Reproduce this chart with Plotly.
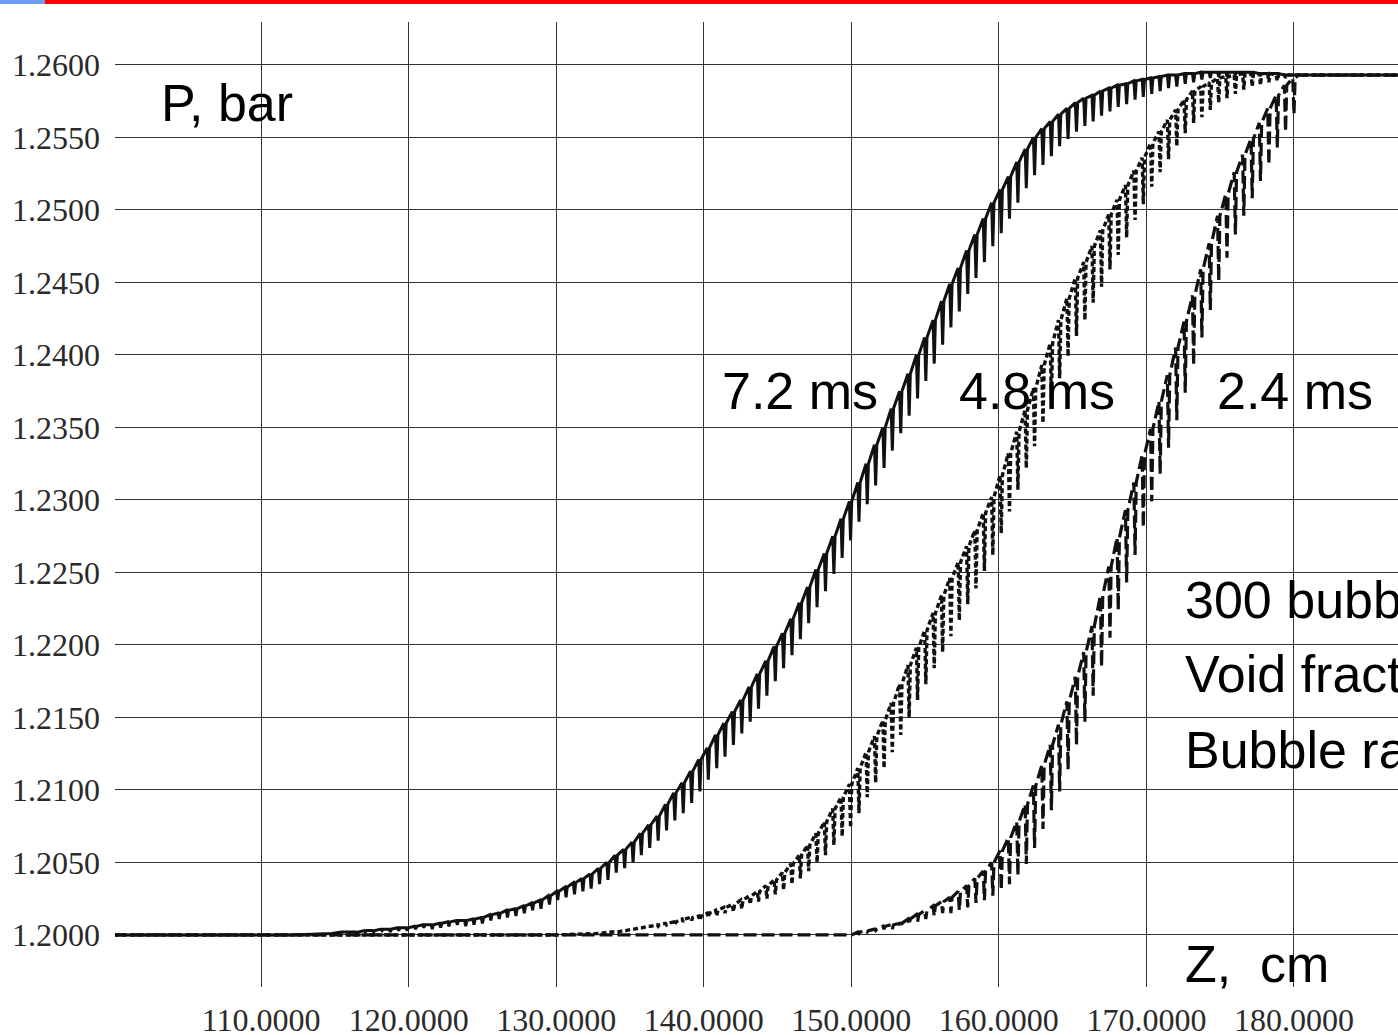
import plotly.graph_objects as go

# ---------------- data ----------------
# bubble positions along the tube (cm), where the pressure dips
bubble_z = [
    115.36, 115.93, 116.50, 117.06, 117.63, 118.20, 118.76, 119.33, 119.90, 120.47,
    121.03, 121.60, 122.17, 122.73, 123.30, 123.87, 124.43, 125.00, 125.57, 126.14,
    126.70, 127.27, 127.84, 128.40, 128.97, 129.54, 130.10, 130.67, 131.24, 131.81,
    132.37, 132.94, 133.51, 134.07, 134.64, 135.21, 135.77, 136.34, 136.91, 137.48,
    138.04, 138.61, 139.18, 139.74, 140.31, 140.88, 141.44, 142.01, 142.58, 143.15,
    143.71, 144.28, 144.85, 145.41, 145.98, 146.55, 147.11, 147.68, 148.25, 148.82,
    149.38, 149.95, 150.52, 151.08, 151.65, 152.22, 152.78, 153.35, 153.92, 154.49,
    155.05, 155.62, 156.19, 156.75, 157.32, 157.89, 158.45, 159.02, 159.59, 160.16,
    160.72, 161.29, 161.86, 162.42, 162.99, 163.56, 164.12, 164.69, 165.26, 165.83,
    166.39, 166.96, 167.53, 168.09, 168.66, 169.23, 169.79, 170.36, 170.93, 171.50,
    172.06, 172.63, 173.20, 173.76, 174.33, 174.90, 175.46, 176.03, 176.60, 177.17,
    177.73, 178.30, 178.87, 179.43, 180.00,
]

# 7.2 ms (solid): pressure just before each bubble and at the bottom of each dip (bar)
p72_top = [
    1.2002, 1.2002, 1.2002, 1.2003, 1.2003, 1.2004, 1.2004, 1.2005, 1.2005, 1.2006,
    1.2007, 1.2007, 1.2008, 1.2009, 1.2010, 1.2010, 1.2011, 1.2012, 1.2014, 1.2015,
    1.2017, 1.2018, 1.2020, 1.2022, 1.2024, 1.2027, 1.2030, 1.2033, 1.2036, 1.2039,
    1.2042, 1.2046, 1.2050, 1.2055, 1.2059, 1.2064, 1.2070, 1.2076, 1.2082, 1.2090,
    1.2098, 1.2105, 1.2113, 1.2121, 1.2129, 1.2138, 1.2146, 1.2154, 1.2162, 1.2171,
    1.2180, 1.2189, 1.2199, 1.2208, 1.2218, 1.2229, 1.2240, 1.2252, 1.2263, 1.2275,
    1.2287, 1.2299, 1.2312, 1.2325, 1.2338, 1.2350, 1.2363, 1.2375, 1.2387, 1.2400,
    1.2412, 1.2424, 1.2437, 1.2449, 1.2460, 1.2472, 1.2483, 1.2494, 1.2505, 1.2514,
    1.2523, 1.2533, 1.2542, 1.2550, 1.2556, 1.2561, 1.2566, 1.2570, 1.2574, 1.2577,
    1.2579, 1.2582, 1.2584, 1.2586, 1.2587, 1.2589, 1.2590, 1.2591, 1.2592, 1.2593,
    1.2593, 1.2594, 1.2594, 1.2595, 1.2595, 1.2595, 1.2595, 1.2595, 1.2595, 1.2595,
    1.2594, 1.2594, 1.2594, 1.2593, 1.2593,
]
p72_low = [
    1.2002, 1.2002, 1.2001, 1.2002, 1.2002, 1.2003, 1.2002, 1.2003, 1.2003, 1.2004,
    1.2005, 1.2004, 1.2005, 1.2006, 1.2007, 1.2006, 1.2007, 1.2008, 1.2010, 1.2011,
    1.2012, 1.2013, 1.2015, 1.2017, 1.2018, 1.2021, 1.2024, 1.2026, 1.2028, 1.2030,
    1.2032, 1.2035, 1.2038, 1.2043, 1.2046, 1.2050, 1.2055, 1.2060, 1.2065, 1.2072,
    1.2079, 1.2084, 1.2091, 1.2099, 1.2107, 1.2115, 1.2123, 1.2131, 1.2139, 1.2147,
    1.2156, 1.2165, 1.2175, 1.2184, 1.2193, 1.2204, 1.2215, 1.2226, 1.2237, 1.2249,
    1.2260, 1.2272, 1.2285, 1.2297, 1.2310, 1.2322, 1.2334, 1.2346, 1.2358, 1.2370,
    1.2382, 1.2394, 1.2407, 1.2419, 1.2430, 1.2442, 1.2453, 1.2464, 1.2475, 1.2484,
    1.2494, 1.2505, 1.2515, 1.2524, 1.2531, 1.2537, 1.2544, 1.2549, 1.2554, 1.2558,
    1.2561, 1.2565, 1.2568, 1.2571, 1.2573, 1.2576, 1.2578, 1.2580, 1.2582, 1.2584,
    1.2585, 1.2587, 1.2588, 1.2590, 1.2591, 1.2592, 1.2592, 1.2593, 1.2593, 1.2594,
    1.2593, 1.2593, 1.2594, 1.2593, 1.2593,
]

# 4.8 ms (dotted): bubbles from 133.51 cm onward
p48_top = [
    1.2002, 1.2002, 1.2003, 1.2004, 1.2005, 1.2006, 1.2007, 1.2008,
    1.2009, 1.2011, 1.2012, 1.2013, 1.2015, 1.2017, 1.2019, 1.2021, 1.2024, 1.2027,
    1.2030, 1.2034, 1.2038, 1.2043, 1.2049, 1.2055, 1.2062, 1.2070, 1.2078, 1.2087,
    1.2095, 1.2104, 1.2115, 1.2126, 1.2137, 1.2148, 1.2160, 1.2173, 1.2186, 1.2198,
    1.2210, 1.2222, 1.2234, 1.2246, 1.2257, 1.2268, 1.2279, 1.2291, 1.2302, 1.2317,
    1.2332, 1.2347, 1.2362, 1.2377, 1.2393, 1.2408, 1.2424, 1.2439, 1.2453, 1.2464,
    1.2475, 1.2486, 1.2497, 1.2507, 1.2517, 1.2527, 1.2536, 1.2546, 1.2554, 1.2562,
    1.2569, 1.2576, 1.2582, 1.2585, 1.2588, 1.2591, 1.2592, 1.2593, 1.2594, 1.2594,
    1.2594, 1.2594, 1.2593, 1.2593, 1.2593,
]
p48_low = [
    1.2002, 1.2002, 1.2003, 1.2004, 1.2005, 1.2006, 1.2006, 1.2007,
    1.2007, 1.2009, 1.2010, 1.2010, 1.2012, 1.2013, 1.2015, 1.2016, 1.2018, 1.2021,
    1.2023, 1.2025, 1.2028, 1.2031, 1.2035, 1.2039, 1.2044, 1.2050, 1.2055, 1.2062,
    1.2068, 1.2074, 1.2084, 1.2095, 1.2105, 1.2115, 1.2126, 1.2138, 1.2150, 1.2162,
    1.2173, 1.2184, 1.2195, 1.2206, 1.2217, 1.2228, 1.2239, 1.2251, 1.2262, 1.2277,
    1.2292, 1.2307, 1.2322, 1.2337, 1.2353, 1.2368, 1.2384, 1.2399, 1.2413, 1.2424,
    1.2436, 1.2447, 1.2459, 1.2469, 1.2481, 1.2493, 1.2504, 1.2516, 1.2526, 1.2535,
    1.2544, 1.2553, 1.2560, 1.2564, 1.2569, 1.2574, 1.2577, 1.2580, 1.2583, 1.2585,
    1.2586, 1.2588, 1.2589, 1.2591, 1.2593,
]

# 2.4 ms (dashed): bubbles from 149.95 cm onward
p24_top = [
    1.2000, 1.2002, 1.2003, 1.2004, 1.2006, 1.2007, 1.2008, 1.2011, 1.2014,
    1.2017, 1.2020, 1.2023, 1.2026, 1.2030, 1.2034, 1.2039, 1.2044, 1.2050, 1.2058,
    1.2067, 1.2078, 1.2090, 1.2103, 1.2117, 1.2131, 1.2145, 1.2161, 1.2178, 1.2195,
    1.2213, 1.2234, 1.2254, 1.2274, 1.2293, 1.2312, 1.2331, 1.2349, 1.2368, 1.2386,
    1.2405, 1.2423, 1.2441, 1.2459, 1.2477, 1.2496, 1.2511, 1.2526, 1.2538, 1.2549,
    1.2560, 1.2570, 1.2579, 1.2586, 1.2591,
]
p24_low = [
    1.2000, 1.2001, 1.2002, 1.2003, 1.2004, 1.2004, 1.2005, 1.2007, 1.2009,
    1.2011, 1.2013, 1.2015, 1.2015, 1.2017, 1.2019, 1.2022, 1.2024, 1.2027, 1.2031,
    1.2035, 1.2041, 1.2049, 1.2060, 1.2073, 1.2086, 1.2099, 1.2114, 1.2131, 1.2147,
    1.2165, 1.2185, 1.2205, 1.2224, 1.2243, 1.2262, 1.2281, 1.2299, 1.2318, 1.2336,
    1.2355, 1.2374, 1.2393, 1.2412, 1.2431, 1.2451, 1.2467, 1.2483, 1.2496, 1.2508,
    1.2520, 1.2531, 1.2543, 1.2554, 1.2566,
]

# undisturbed parts of each profile (before the front / after 180 cm)
lead72_z, lead72_p = [100.0, 112.0, 114.8], [1.2000, 1.2000, 1.2001]
lead48_z, lead48_p = [100.0, 130.0, 132.9], [1.2000, 1.2000, 1.2001]
lead24_z, lead24_p = [100.0, 149.4], [1.2000, 1.2000]
tail_z, tail_p = [180.3, 187.2], [1.2593, 1.2593]

x_ticks = [110, 120, 130, 140, 150, 160, 170, 180]
x_tick_labels = ["110.0000", "120.0000", "130.0000", "140.0000",
                 "150.0000", "160.0000", "170.0000", "180.0000"]
y_ticks = [1.200, 1.205, 1.210, 1.215, 1.220, 1.225, 1.230,
           1.235, 1.240, 1.245, 1.250, 1.255, 1.260]
y_tick_labels = ["1.2000", "1.2050", "1.2100", "1.2150", "1.2200", "1.2250", "1.2300",
                 "1.2350", "1.2400", "1.2450", "1.2500", "1.2550", "1.2600"]

assert len(p72_top) == len(p72_low) == len(bubble_z)
assert len(p48_top) == len(p48_low)
assert len(p24_top) == len(p24_low)

HALF = 0.08  # half width of a drawn pressure dip (cm)


def profile(lead_z, lead_p, top, low):
    zs = bubble_z[len(bubble_z) - len(top):]
    xs, ys = list(lead_z), list(lead_p)
    for z, t, lo in zip(zs, top, low):
        xs += [z - HALF, z, z + HALF]
        ys += [t, lo, t]
    xs += tail_z
    ys += tail_p
    return xs, ys


fig = go.Figure()

x24, y24 = profile(lead24_z, lead24_p, p24_top, p24_low)
fig.add_trace(go.Scatter(x=x24, y=y24, mode="lines", name="2.4 ms",
                         line=dict(color="#111111", width=3.2, dash="13px,5px")))
x48, y48 = profile(lead48_z, lead48_p, p48_top, p48_low)
fig.add_trace(go.Scatter(x=x48, y=y48, mode="lines", name="4.8 ms",
                         line=dict(color="#111111", width=3.4, dash="5px,3px")))
x72, y72 = profile(lead72_z, lead72_p, p72_top, p72_low)
fig.add_trace(go.Scatter(x=x72, y=y72, mode="lines", name="7.2 ms",
                         line=dict(color="#111111", width=3)))

ann_font = dict(family="Liberation Sans, Arial, sans-serif", size=52, color="black")
labels = [
    ("P, bar", 103.1, 1.25734),
    ("7.2 ms", 141.1, 1.23752),
    ("4.8 ms", 157.15, 1.23752),
    ("2.4 ms", 174.65, 1.23752),
    ("300 bubbles", 172.45, 1.22310),
    ("Void fraction", 172.45, 1.21800),
    ("Bubble radius", 172.45, 1.21276),
    ("Z,\u00a0 cm", 172.45, 1.19800),
]
for text, x, y in labels:
    fig.add_annotation(text=text, x=x, y=y, xref="x", yref="y",
                       xanchor="left", yanchor="middle", showarrow=False,
                       font=ann_font)

fig.update_layout(
    width=1398, height=1035,
    margin=dict(l=115, r=0, t=22, b=48, pad=0),
    paper_bgcolor="white", plot_bgcolor="white",
    showlegend=False,
    xaxis=dict(range=[100.1, 187.05], tickmode="array", tickvals=x_ticks,
               ticktext=x_tick_labels, showgrid=True, gridcolor="#333333",
               gridwidth=1.4, zeroline=False, showline=False, ticks="",
               tickfont=dict(family="Liberation Serif, Times New Roman, serif",
                             size=32, color="#2a2a2a"),
               ticklabelstandoff=11, automargin=False),
    yaxis=dict(range=[1.19641, 1.26296], tickmode="array", tickvals=y_ticks,
               ticktext=y_tick_labels, showgrid=True, gridcolor="#333333",
               gridwidth=1.4, zeroline=False, showline=False, ticks="",
               tickfont=dict(family="Liberation Serif, Times New Roman, serif",
                             size=32, color="#2a2a2a"),
               ticklabelstandoff=14, automargin=False),
    shapes=[
        dict(type="rect", xref="paper", yref="paper", x0=-0.0546, x1=1.0,
             y0=1.01865, y1=1.0228, fillcolor="#ff0000", line=dict(width=0)),
        dict(type="rect", xref="paper", yref="paper", x0=-0.0896, x1=-0.0546,
             y0=1.01865, y1=1.0228, fillcolor="#6b9bf2", line=dict(width=0)),
    ],
)

fig.write_html("out.html")
